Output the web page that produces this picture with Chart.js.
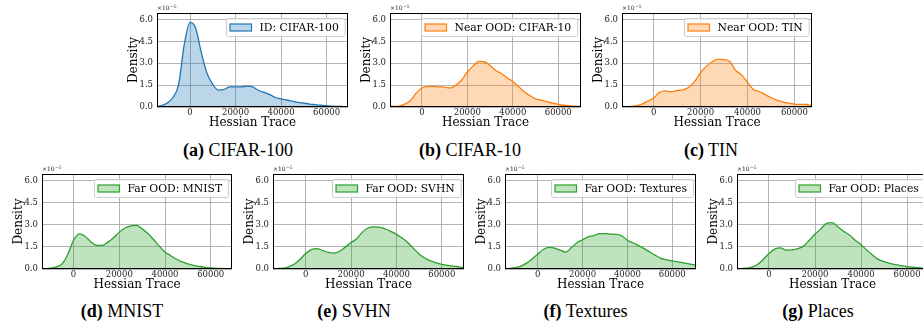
<!DOCTYPE html>
<html><head><meta charset="utf-8">
<script src="https://cdn.jsdelivr.net/npm/chart.js@4.4.1/dist/chart.umd.min.js"></script>
<style>
html,body{margin:0;padding:0;background:#fff;}
body{width:923px;height:329px;position:relative;overflow:hidden;}
.wrap{position:absolute;}
.cap{position:absolute;font-family:"Liberation Serif","Times New Roman",serif;font-size:18px;line-height:18px;white-space:nowrap;transform:translateX(-50%);color:#000;}
.cap b{font-weight:bold;}
</style></head><body>
<script>
// ---------------- data ----------------
const hessianTrace = [-15000,-12500,-10000,-7500,-5000,-2500,0,2500,5000,7500,10000,12500,15000,17500,20000,22500,25000,27500,30000,32500,35000,37500,40000,42500,45000,47500,50000,52500,55000,57500,60000,62500,65000,67500,70000,72500];
const xTickValues = [0, 20000, 40000, 60000];
const yTickValues = [0, 1.5, 3.0, 4.5, 6.0];

// densities in units of 1e-5
const densityCIFAR100 = [0.03,0.1,0.28,0.65,1.55,4.3,5.8,5.4,3.7,2.3,1.55,1.15,1.2,1.38,1.38,1.38,1.43,1.38,1.15,1.0,0.85,0.65,0.55,0.48,0.4,0.32,0.26,0.2,0.16,0.12,0.09,0.06,0.04,0.03,0.02,0.01];
const densityCIFAR10  = [0.02,0.04,0.06,0.2,0.45,0.95,1.3,1.4,1.42,1.38,1.36,1.3,1.5,1.85,2.4,2.8,3.12,3.1,2.85,2.5,2.3,2.0,1.75,1.4,1.05,0.78,0.56,0.47,0.36,0.26,0.18,0.12,0.08,0.05,0.04,0.03];
const densityTIN      = [0.01,0.02,0.04,0.08,0.2,0.4,0.62,1.0,1.1,1.04,1.13,1.18,1.35,1.75,2.35,2.8,3.1,3.28,3.24,3.1,2.5,2.2,1.68,1.2,1.06,0.85,0.65,0.47,0.35,0.26,0.2,0.18,0.17,0.1,0.05,0.03];
const densityMNIST    = [0.01,0.02,0.05,0.15,0.35,1.0,1.95,2.38,2.22,1.85,1.6,1.6,1.82,2.12,2.5,2.78,2.92,2.96,2.72,2.4,2.0,1.55,1.15,0.9,0.66,0.48,0.34,0.24,0.17,0.11,0.07,0.04,0.03,0.02,0.01,0.01];
const densitySVHN     = [0.02,0.03,0.05,0.15,0.32,0.65,1.05,1.32,1.38,1.25,1.12,1.08,1.2,1.5,1.8,2.05,2.5,2.78,2.85,2.82,2.72,2.55,2.35,2.1,1.8,1.4,1.02,0.75,0.55,0.42,0.32,0.25,0.2,0.15,0.1,0.07];
const densityTextures = [0.02,0.04,0.1,0.2,0.4,0.68,1.0,1.32,1.47,1.42,1.28,1.15,1.45,1.78,1.98,2.18,2.26,2.4,2.4,2.37,2.35,2.25,1.95,1.78,1.58,1.38,1.15,0.92,0.72,0.62,0.55,0.48,0.42,0.35,0.27,0.2];
const densityPlaces   = [0.01,0.02,0.05,0.12,0.3,0.65,1.05,1.35,1.43,1.28,1.3,1.38,1.55,1.95,2.35,2.72,3.1,3.15,2.85,2.55,2.3,1.95,1.65,1.28,0.95,0.65,0.5,0.38,0.3,0.23,0.16,0.12,0.09,0.06,0.04,0.03];

const panelDensities = [densityCIFAR100, densityCIFAR10, densityTIN, densityMNIST, densitySVHN, densityTextures, densityPlaces];
const legendLabels = ['ID: CIFAR-100','Near OOD: CIFAR-10','Near OOD: TIN','Far OOD: MNIST','Far OOD: SVHN','Far OOD: Textures','Far OOD: Places'];
const captionTags  = ['(a)','(b)','(c)','(d)','(e)','(f)','(g)'];
const captionNames = ['CIFAR-100','CIFAR-10','TIN','MNIST','SVHN','Textures','Places'];
const xMins = [-14500,-14000,-13500,-13800,-14400,-14600,-13900];
const xMaxs = [69400,70000,67500,69300,69800,70600,69100];
const yMax = 6.44;

// ---------------- styles / layout ----------------
const palette = {
  blue:  {line:'#1f77b4', fill:'rgba(31,119,180,0.3)'},
  orange:{line:'#ff7f0e', fill:'rgba(255,127,14,0.3)'},
  green: {line:'#2ca02c', fill:'rgba(44,160,44,0.3)'}
};
const panelStyle = ['blue','orange','orange','green','green','green','green'];
const layout = [
  {left:157, top:13,  w:191, h:94, tp:13, cx:238,   cy:141},
  {left:390, top:13,  w:191, h:94, tp:13, cx:470,   cy:141},
  {left:622, top:13,  w:190, h:94, tp:13, cx:711,   cy:141},
  {left:42,  top:174, w:190, h:95, tp:10, cx:122,   cy:301.5},
  {left:273, top:174, w:191, h:95, tp:10, cx:354,   cy:301.5},
  {left:505, top:174, w:191, h:95, tp:10, cx:585.5, cy:301.5},
  {left:737, top:174, w:191, h:95, tp:10, cx:818,   cy:301.5}
];
const YW = 30, XH = 23, RP = 3;
const SERIF = '"DejaVu Serif", serif';
const GRID = 'rgba(160,160,160,0.8)';

Chart.defaults.font.family = SERIF;
Chart.defaults.color = '#000';

const panelDecor = {
  id: 'panelDecor',
  afterDatasetsDraw(chart) {
    const {ctx, chartArea: a} = chart;
    const ds = chart.data.datasets[0];
    ctx.save();
    // frame
    ctx.strokeStyle = '#000';
    ctx.lineWidth = 1;
    ctx.strokeRect(Math.round(a.left) + 0.5, Math.round(a.top) + 0.5,
                   Math.round(a.right - a.left) - 1, Math.round(a.bottom - a.top) - 1);
    // legend
    ctx.font = '10.8px ' + SERIF;
    const tw = ctx.measureText(ds.label).width;
    const bw = 3.5 + 21.5 + 8 + tw + 6.5, bh = 18;
    const bx = Math.round(a.right - 3.5 - bw) + 0.5, by = Math.round(a.top + 4.5) + 0.5;
    ctx.beginPath();
    if (ctx.roundRect) ctx.roundRect(bx, by, bw, bh, 2); else ctx.rect(bx, by, bw, bh);
    ctx.fillStyle = 'rgba(255,255,255,0.8)';
    ctx.fill();
    ctx.strokeStyle = '#cccccc';
    ctx.lineWidth = 1;
    ctx.stroke();
    const px = bx + 3.5, py = by + (bh - 7) / 2;
    ctx.fillStyle = '#fff';
    ctx.fillRect(px, py, 21.5, 7);
    ctx.fillStyle = ds.backgroundColor;
    ctx.fillRect(px, py, 21.5, 7);
    ctx.strokeStyle = ds.borderColor;
    ctx.lineWidth = 1.2;
    ctx.strokeRect(px, py, 21.5, 7);
    ctx.fillStyle = '#000';
    ctx.textBaseline = 'middle';
    ctx.textAlign = 'left';
    ctx.fillText(ds.label, px + 21.5 + 8, by + bh / 2 + 0.5);
    // offset text x10^-5
    ctx.textBaseline = 'alphabetic';
    ctx.font = '6px ' + SERIF;
    ctx.fillStyle = '#222';
    ctx.fillText('\u00d710', a.left, a.top - 3);
    const w1 = ctx.measureText('\u00d710').width;
    ctx.font = '4.5px ' + SERIF;
    ctx.fillText('\u22125', a.left + w1 + 0.3, a.top - 5.5);
    ctx.restore();
  }
};

layout.forEach((L, i) => {
  const W = YW + L.w + RP, H = L.tp + L.h + XH;
  const wrap = document.createElement('div');
  wrap.className = 'wrap';
  wrap.style.left = (L.left - YW) + 'px';
  wrap.style.top = (L.top - L.tp) + 'px';
  wrap.style.width = W + 'px';
  wrap.style.height = H + 'px';
  const cv = document.createElement('canvas');
  cv.width = W; cv.height = H;
  cv.style.width = W + 'px'; cv.style.height = H + 'px';
  wrap.appendChild(cv);
  document.body.appendChild(wrap);

  const st = palette[panelStyle[i]];
  const values = panelDensities[i];
  new Chart(cv, {
    type: 'line',
    data: {
      datasets: [{
        label: legendLabels[i],
        data: hessianTrace.map((x, k) => ({x: x, y: values[k]})),
        borderColor: st.line,
        backgroundColor: st.fill,
        borderWidth: 1.3,
        fill: 'origin',
        cubicInterpolationMode: 'monotone',
        pointRadius: 0,
        clip: 0
      }]
    },
    options: {
      responsive: false,
      animation: false,
      devicePixelRatio: 1,
      layout: {padding: {top: L.tp, right: RP, left: 0, bottom: 0}},
      plugins: {legend: {display: false}, tooltip: {enabled: false}},
      scales: {
        x: {
          type: 'linear', min: xMins[i], max: xMaxs[i],
          afterBuildTicks: s => { s.ticks = xTickValues.map(v => ({value: v})); },
          afterFit: s => { s.height = XH; },
          ticks: {font: {family: SERIF, size: 8.5}, color: '#222', padding: 1, maxRotation: 0, autoSkip: false,
                  callback: v => String(v)},
          grid: {color: GRID, lineWidth: 1, drawTicks: false},
          border: {display: false},
          title: {display: true, text: 'Hessian Trace', font: {family: SERIF, size: 12}, color: '#000', padding: 0}
        },
        y: {
          min: 0, max: yMax,
          afterBuildTicks: s => { s.ticks = yTickValues.map(v => ({value: v})); },
          afterFit: s => { s.width = YW; },
          ticks: {font: {family: SERIF, size: 8.5}, color: '#222', padding: 4,
                  callback: v => Number(v).toFixed(1)},
          grid: {color: GRID, lineWidth: 1, drawTicks: false},
          border: {display: false},
          title: {display: true, text: 'Density', font: {family: SERIF, size: 12}, color: '#000', padding: 0}
        }
      }
    },
    plugins: [panelDecor]
  });

  const cap = document.createElement('div');
  cap.className = 'cap';
  cap.style.left = L.cx + 'px';
  cap.style.top = L.cy + 'px';
  const b = document.createElement('b');
  b.textContent = captionTags[i];
  cap.appendChild(b);
  cap.appendChild(document.createTextNode(' ' + captionNames[i]));
  document.body.appendChild(cap);
});
</script>
</body></html>
